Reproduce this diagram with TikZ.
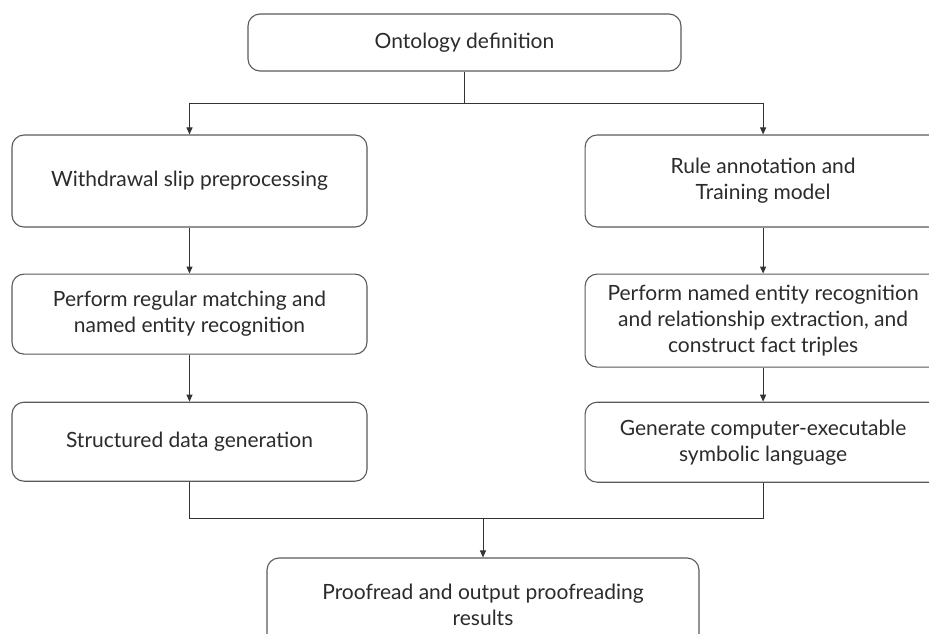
\documentclass[tikz,border=0pt]{standalone}
\usepackage{fontspec}
\setmainfont{Lato}
\usepackage{xcolor}
\usetikzlibrary{arrows.meta,positioning}
\definecolor{ink}{HTML}{2B2B2B}
\definecolor{frame}{HTML}{5A5A5A}
\definecolor{wire}{HTML}{333333}
\tikzset{
  stepbox/.style={
    draw=frame, fill=white, rounded corners=12pt, line width=1.1pt,
    minimum width=355pt, inner sep=0pt, align=center,
    font=\fontsize{21}{26}\selectfont\color{ink}},
  wireline/.style={draw=wire, line width=1pt},
  flow/.style={wireline, -{Triangle[length=7pt,width=6pt]}},
}

\begin{document}
\begin{tikzpicture}[x=1pt, y=-1pt]
  \useasboundingbox (0,0) rectangle (929,634);
  \clip (0,0) rectangle (929,634);

  \node[stepbox, minimum width=433pt, minimum height=57pt] (onto) at (464.5,42.5) {Ontology definition};
  \node[stepbox, minimum height=92pt] (prep) at (189.5,181) {Withdrawal slip preprocessing};
  \node[stepbox, minimum width=356pt, minimum height=92pt, right=217pt of prep] (rule) {Rule annotation and\\ Training model};
  \node[stepbox, minimum height=80pt, below=46pt of prep] (match) {Perform regular matching and\\ named entity recognition};
  \node[stepbox, minimum width=356pt, minimum height=93pt, below=46pt of rule] (ner) {Perform named entity recognition\\ and relationship extraction, and\\ construct fact triples};
  \node[stepbox, minimum height=79pt, below=47pt of match] (gen) {Structured data generation};
  \node[stepbox, minimum width=356pt, minimum height=80pt, below=34pt of ner] (sym) {Generate computer-executable\\ symbolic language};
  \node[stepbox, minimum width=432pt, minimum height=94pt] (proof) at (483,605) {Proofread and output proofreading\\ results};

  \coordinate[below=32pt of onto] (fork);
  \coordinate[above=39pt of proof] (join);

  \draw[wireline] (onto) -- (fork);
  \draw[flow] (fork) -| (prep);
  \draw[flow] (fork) -| (rule);
  \draw[flow] (prep) -- (match);
  \draw[flow] (rule) -- (ner);
  \draw[flow] (match) -- (gen);
  \draw[flow] (ner) -- (sym);
  \draw[wireline] (gen.south) |- (join);
  \draw[wireline] (sym.south) |- (join);
  \draw[flow] (join) -- (proof);
\end{tikzpicture}
\end{document}
